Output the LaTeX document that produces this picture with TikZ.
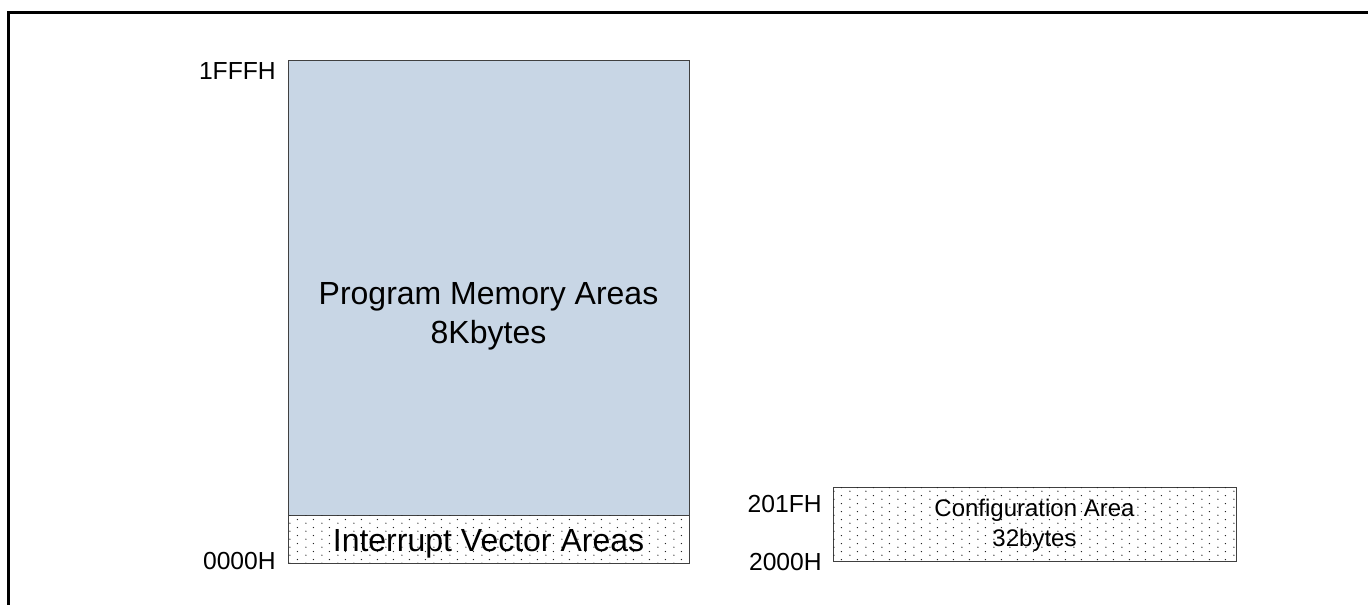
\documentclass[tikz,border=0pt]{standalone}
\usepackage{fontspec}
\setmainfont{Liberation Sans}
\usetikzlibrary{patterns.meta}

\definecolor{progblue}{HTML}{C8D6E5}
\definecolor{edgegray}{HTML}{404040}

% fine dot screen used for the reserved areas
\tikzdeclarepattern{
  name=memdots,
  type=uncolored,
  bounding box={(0pt,0pt) and (12pt,6pt)},
  tile size={(12pt,6pt)},
  code={
    \fill (1.5pt,1.5pt) circle (0.55pt);
    \fill (7.5pt,4.5pt) circle (0.55pt);
  }
}

\tikzset{
  areabox/.style={draw=edgegray, line width=0.75pt},
  dotted area/.style={fill=white, postaction={pattern={memdots}, pattern color=black!85}},
  addr/.style={anchor=base east, inner sep=0pt, font=\fontsize{18.5pt}{22pt}\selectfont},
  bigtext/.style={align=center, inner sep=0pt, font=\fontsize{24pt}{29pt}\selectfont},
  smalltext/.style={anchor=base, inner sep=0pt, font=\fontsize{18pt}{22.5pt}\selectfont},
}

\begin{document}
\begin{tikzpicture}[x=0.75pt, y=-0.75pt]
  \useasboundingbox (0,0) rectangle (1368,605);

  % outer frame (runs off the right and bottom edges)
  \draw[line width=1.8pt] (8.5,615) |- (1380,12.5);

  % program memory block
  \path[areabox, fill=progblue] (288,61) rectangle (689,516);
  \path[areabox, dotted area] (288,516) rectangle (689,564);
  \draw[areabox] (288,61) rectangle (689,564);

  \node[bigtext] (prog) at (488.5,316) {Program Memory Areas\\8Kbytes};
  \node[anchor=base, inner sep=0pt, font=\fontsize{24pt}{29pt}\selectfont] (ivec) at (488.5,552) {Interrupt Vector Areas};

  \node[addr] (top) at (276,80) {1FFFH};
  \node[addr] (bot) at (276,570) {0000H};

  % configuration block
  \path[areabox, dotted area] (833,488) rectangle (1236,562);
  \node[smalltext] (cfg1) at (1034.5,517) {Configuration Area};
  \node[smalltext] (cfg2) at (1034.5,547) {32bytes};

  \node[addr] (ctop) at (822,513) {201FH};
  \node[addr] (cbot) at (822,571) {2000H};
\end{tikzpicture}
\end{document}
